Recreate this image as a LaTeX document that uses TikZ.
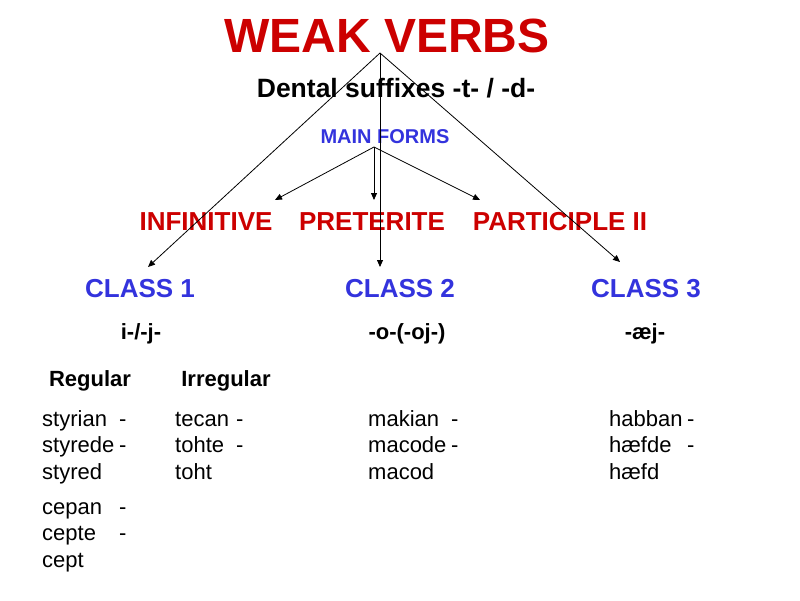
\documentclass[tikz,border=0pt]{standalone}
\usepackage{fontspec}
\setmainfont{Liberation Sans}
\usetikzlibrary{arrows.meta}
\definecolor{slidered}{RGB}{204,0,0}
\definecolor{slideblue}{RGB}{51,51,221}
\newcommand{\fs}[1]{\fontsize{#1}{#1}\selectfont}
\newcommand{\vform}[2]{\makebox[#1][l]{#2}-}

\begin{document}
\begin{tikzpicture}[x=1pt, y=-1pt,
    lbl/.style={anchor=base, inner sep=0pt},
    title/.style={lbl, font=\fs{48}\bfseries, text=slidered},
    form/.style={lbl, font=\fs{26}\bfseries, text=slidered},
    class/.style={lbl, font=\fs{26}\bfseries, text=slideblue},
    suffix/.style={lbl, font=\fs{22}\bfseries},
    verbs/.style={anchor=base west, inner sep=0pt, align=left, font=\fontsize{22}{26.5}\selectfont},
    arr/.style={-{Triangle[length=7pt, width=6pt]}, line width=0.8pt}]
    \useasboundingbox (0,0) rectangle (800,600);

    % Title
    \node[title] (weak) at (387,52) {WEAK VERBS};
    \node[lbl, font=\fs{26.5}\bfseries] (dental) at (396,97) {Dental suffixes -t- / -d-};
    \node[lbl, font=\fs{20}\bfseries, text=slideblue] (main) at (385,143) {MAIN FORMS};

    % Main forms
    \node[form] (inf) at (206,230) {INFINITIVE};
    \node[form] (pret) at (372,230) {PRETERITE};
    \node[form] (part) at (560,230) {PARTICIPLE II};

    % Classes
    \node[class] (class-1) at (140,297) {CLASS 1};
    \node[class] (class-2) at (400,297) {CLASS 2};
    \node[class] (class-3) at (646,297) {CLASS 3};

    \node[suffix] (suf-1) at (141,339) {i-/-j-};
    \node[suffix] (suf-2) at (407,339) {-o-(-oj-)};
    \node[suffix] (suf-3) at (645,339) {-æj-};

    \node[suffix] (reg) at (90,386) {Regular};
    \node[suffix] (irreg) at (226,386) {Irregular};

    % Examples (anchored at the last line)
    \node[verbs] (ex-1-1) at (42,479) {\vform{77pt}{styrian}\\\vform{77pt}{styrede}\\styred};
    \node[verbs] (ex-1-2) at (42,567) {\vform{77pt}{cepan}\\\vform{77pt}{cepte}\\cept};
    \node[verbs] (ex-1-3) at (175,479) {\vform{61pt}{tecan}\\\vform{61pt}{tohte}\\toht};
    \node[verbs] (ex-2-1) at (368,479) {\vform{83pt}{makian}\\\vform{83pt}{macode}\\macod};
    \node[verbs] (ex-3-1) at (609,479) {\vform{78pt}{habban}\\\vform{78pt}{hæfde}\\hæfd};

    % Arrows
    \coordinate (top) at (380,53);
    \coordinate (fork) at (374,147);
    \coordinate (class-1-end) at (148,267);
    \coordinate (class-2-end) at (380,267);
    \coordinate (class-3-end) at (620,262);
    \coordinate (inf-end) at (275,200);
    \coordinate (pret-end) at (374,200);
    \coordinate (part-end) at (480,200);
    \draw[arr] (top) -- (class-1-end);
    \draw[arr] (top) -- (class-2-end);
    \draw[arr] (top) -- (class-3-end);
    \draw[arr] (fork) -- (inf-end);
    \draw[arr] (fork) -- (pret-end);
    \draw[arr] (fork) -- (part-end);

\end{tikzpicture}
\end{document}
